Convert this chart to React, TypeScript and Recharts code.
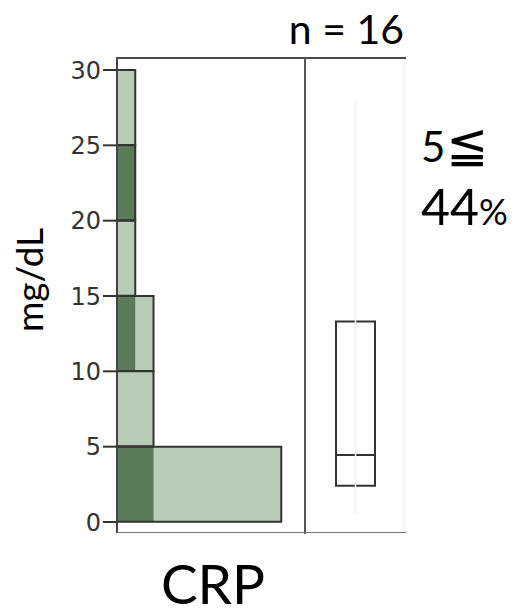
import { Bar, ComposedChart, ReferenceLine, XAxis, YAxis } from "recharts";

// histogram bins (mg/dL), drawn bottom to top
const binLabels = ["0-5", "5-10", "10-15", "15-20", "20-25", "25-30"];
const binMids = [2.5, 7.5, 12.5, 17.5, 22.5, 27.5];
const totalCounts = [9, 2, 2, 1, 1, 1];
const darkCounts = [2, 0, 1, 0, 1, 0];
const yTicks = [0, 5, 10, 15, 20, 25, 30];

// box plot: min, q1, median, q3, max
const crpBox = [0.5, 2.4, 4.45, 13.3, 28];
const threshold = 5;

const LIGHT = "#b9ccb8";
const DARK = "#5a7a5a";
const LINE = "#333";

const histData = binLabels.map((bin, i) => ({
    bin,
    mid: binMids[i],
    total: totalCounts[i],
    dark: darkCounts[i],
}));

const [bMin, bQ1, bMed, bQ3, bMax] = crpBox;
const boxData = [
    { name: "CRP", base: bQ1, lower: bMed - bQ1, upper: bQ3 - bMed },
];

const n = totalCounts.reduce((a, b) => a + b, 0);
const above = binMids.reduce(
    (acc, m, i) => (m > threshold ? acc + totalCounts[i] : acc),
    0
);
const pct = Math.round((above / n) * 100);

const FONT = "Lato, 'Noto Sans', sans-serif";

export default function App() {
    return (
        <div
            style={{
                position: "absolute",
                left: 0,
                top: 0,
                width: 524,
                height: 616,
                background: "#fff",
            }}
        >
            {/* histogram */}
            <div style={{ position: "absolute", left: 0, top: 0 }}>
                <ComposedChart
                    layout="vertical"
                    width={305}
                    height={616}
                    data={histData}
                    margin={{ top: 58, right: 0, bottom: 83, left: 0 }}
                    barCategoryGap={0}
                    barGap="-100%"
                >
                    <XAxis type="number" domain={[0, 10.3]} hide allowDataOverflow />
                    <YAxis
                        type="number"
                        dataKey="mid"
                        domain={[0, 30]}
                        ticks={yTicks}
                        interval={0}
                        reversed
                        width={117}
                        padding={{ top: 12, bottom: 11 }}
                        tickSize={14}
                        tickMargin={2}
                        axisLine={{ stroke: "#444", strokeWidth: 2 }}
                        tickLine={{ stroke: LINE, strokeWidth: 2 }}
                        tick={{ fill: "#333", fontSize: 24, fontFamily: "DejaVu Sans" }}
                    />
                    <Bar dataKey="total" fill={LIGHT} isAnimationActive={false} />
                    <Bar dataKey="dark" fill={DARK} isAnimationActive={false} />
                    <Bar
                        dataKey="total"
                        fill="none"
                        stroke={LINE}
                        strokeWidth={2}
                        isAnimationActive={false}
                    />
                </ComposedChart>
            </div>

            {/* box plot */}
            <div style={{ position: "absolute", left: 305, top: 0 }}>
                <ComposedChart
                    width={101}
                    height={616}
                    data={boxData}
                    margin={{ top: 58, right: 0, bottom: 83, left: 0 }}
                >
                    <XAxis type="category" dataKey="name" hide />
                    <YAxis
                        type="number"
                        domain={[0, 30]}
                        hide
                        padding={{ top: 12, bottom: 11 }}
                    />
                    <ReferenceLine
                        segment={[
                            { x: "CRP", y: bMin },
                            { x: "CRP", y: bMax },
                        ]}
                        stroke="#f3f3f3"
                        strokeWidth={1.5}
                    />
                    <Bar
                        dataKey="base"
                        stackId="box"
                        fill="transparent"
                        barSize={39}
                        isAnimationActive={false}
                    />
                    <Bar
                        dataKey="lower"
                        stackId="box"
                        fill="#fff"
                        stroke={LINE}
                        strokeWidth={2}
                        barSize={39}
                        isAnimationActive={false}
                    />
                    <Bar
                        dataKey="upper"
                        stackId="box"
                        fill="#fff"
                        stroke={LINE}
                        strokeWidth={2}
                        barSize={39}
                        isAnimationActive={false}
                    />
                </ComposedChart>
            </div>

            {/* frame */}
            <div style={{ position: "absolute", left: 116, top: 57, width: 290, height: 2, background: "#4a4a4a" }} />
            <div style={{ position: "absolute", left: 304, top: 57, width: 2, height: 477, background: "#555" }} />
            <div style={{ position: "absolute", left: 117, top: 532, width: 289, height: 1, background: "#777" }} />
            <div style={{ position: "absolute", left: 402, top: 59, width: 4, height: 473, background: "#f7f7f7" }} />

            {/* labels */}
            <svg
                width={524}
                height={616}
                style={{ position: "absolute", left: 0, top: 0, pointerEvents: "none" }}
            >
                <text x={404} y={44} textAnchor="end" fontSize={41} fontFamily={FONT} fill="#000">
                    n = {n}
                </text>
                <text
                    x={43}
                    y={280}
                    textAnchor="middle"
                    fontSize={37}
                    fontFamily={FONT}
                    fill="#000"
                    transform="rotate(-90 43 280)"
                >
                    mg/dL
                </text>
                <text x={213} y={604} textAnchor="middle" fontSize={55} fontFamily={FONT} fill="#000">
                    CRP
                </text>
                <text x={421} y={162} fontSize={42} fontFamily={FONT} fill="#000">
                    {threshold}
                    <tspan fontFamily="'DejaVu Sans'" fontSize={50} dx={1}>≦</tspan>
                </text>
                <text x={421} y={225} fontSize={50} fontFamily={FONT} fill="#000">
                    {pct}
                    <tspan fontSize={36}>%</tspan>
                </text>
            </svg>
        </div>
    );
}
